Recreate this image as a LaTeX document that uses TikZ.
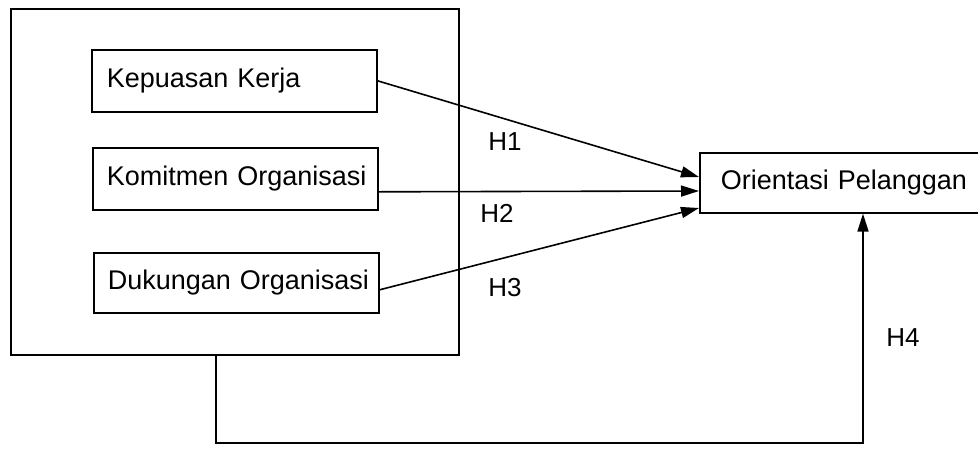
\documentclass[tikz,border=0pt]{standalone}
\usepackage{fontspec}
\setmainfont{Liberation Sans}
\usetikzlibrary{arrows.meta,calc}
\begin{document}
\begin{tikzpicture}[x=1pt,y=-1pt,
  box/.style={draw,line width=1.6pt,inner sep=0pt,anchor=north west,font=\fontsize{27}{30}\selectfont},
  tbox/.style={box,align=left,text width=#1},
  arr/.style={line width=1.6pt,-{Triangle[length=18pt,width=11pt]}},
  lab/.style={font=\fontsize{26}{30}\selectfont}]
\useasboundingbox (0,0) rectangle (978,448);
\clip (0,0) rectangle (978,448);
\node[box,minimum width=448pt,minimum height=346pt] (outer) at (10,8) {};
\node[tbox=255pt,minimum width=285pt,minimum height=62pt] (kep) at (91,49) {\mbox{Kepuasan Kerja}};
\node[tbox=257pt,minimum width=285pt,minimum height=62pt] (kom) at (92,147) {\mbox{Komitmen Organisasi}};
\node[tbox=257pt,minimum width=285pt,minimum height=60pt] (duk) at (93,252) {\mbox{Dukungan Organisasi}};
\node[tbox=288pt,minimum width=330pt,minimum height=60pt] (ori) at (699,152) {\mbox{Orientasi Pelanggan}};
\draw[arr] (kep.east) -- ($(ori.north west)+(0,25)$);
\draw[arr] ($(kom.east)+(0,13)$) -- ($(ori.north west)+(0,39)$);
\draw[arr] ($(duk.east)+(0,7)$) -- ($(ori.north west)+(0,56)$);
\coordinate (c1) at (216,443);
\coordinate (c2) at (863,443);
\draw[arr] (c1 |- outer.south) -- (c1) -- (c2) -- (c2 |- ori.south);
\node[lab] (h1) at (505,142) {H1};
\node[lab] (h2) at (497,213) {H2};
\node[lab] (h3) at (505,288) {H3};
\node[lab] (h4) at (903,338) {H4};
\end{tikzpicture}
\end{document}
